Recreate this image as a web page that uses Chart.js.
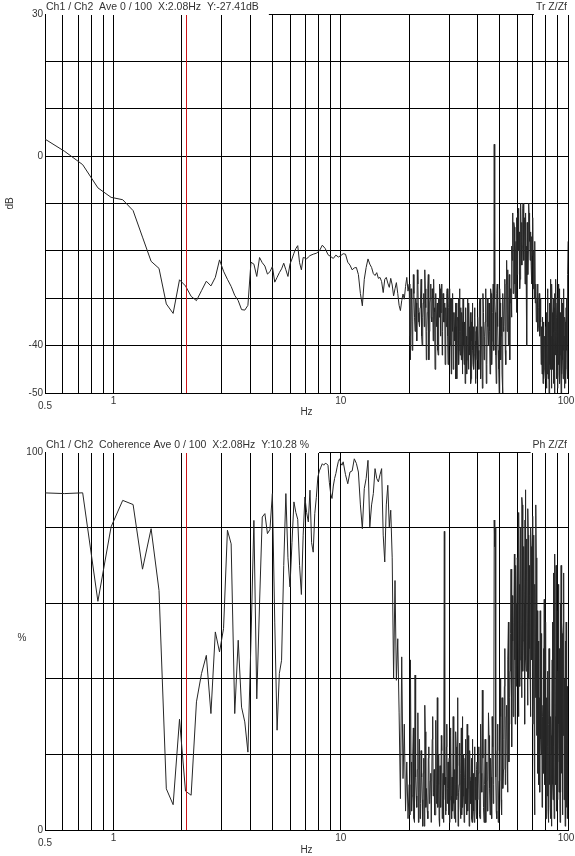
<!DOCTYPE html>
<html>
<head>
<meta charset="utf-8">
<title>Tr Z/Zf - Coherence</title>
<script src="https://cdn.jsdelivr.net/npm/chart.js@4.4.0/dist/chart.umd.min.js"></script>
<style>
    html, body { margin: 0; padding: 0; background: #fff; }
    #wrap { position: relative; width: 575px; height: 856px; overflow: hidden; }
    canvas { position: absolute; left: 0; }
    #trChart { top: 0; }
    #cohChart { top: 430px; }
</style>
</head>
<body>
<div id="wrap">
    <canvas id="trChart" width="575" height="430"></canvas>
    <canvas id="cohChart" width="575" height="426"></canvas>
</div>
<script>
/* ============================================
   Transfer function + coherence, Ch1 / Ch2
   ============================================ */

// FFT line spacing (Hz) and cursor
const binWidth = 0.12207;
const cursorHz = 2.08;

// axis grid / labels
const xGridHz = [0.5, 0.6, 0.7, 0.8, 0.9, 1, 2, 3, 4, 5, 6, 7, 8, 9, 10, 20, 30, 40, 50, 60, 70, 80, 90, 100];
const xLabelHz = [1, 10];
const trGrid = [30, 20, 10, 0, -10, -20, -30, -40, -50];
const trLabels = [30, 0, -40, -50];
const cohGrid = [100, 80, 60, 40, 20, 0];
const cohLabels = [100, 0];

// Tr Z/Zf (dB) - lines 4..59, every line
const trLow = [
    3.9, 1.0, -1.8, -6.7, -8.7, -9.2, -11.5, -17.1, -22.2, -23.7,
    -31.2, -33.2, -26.1, -27.4, -29.6, -30.5, -28.4, -26.4, -27.4, -25.6,
    -21.9, -24.3, -26.0, -27.5, -29.4, -30.5, -32.4, -32.5, -31.5, -22.4,
    -22.8, -25.4, -21.4, -22.5, -23.2, -24.9, -24.4, -23.3, -26.6, -25.6,
    -24.6, -23.8, -22.6, -24.0, -25.4, -22.8, -21.7, -20.5, -19.5, -18.9,
    -22.5, -24.0, -21.4, -21.5, -21.7, -21.3
];
// Tr Z/Zf (dB) - lines 60..326, every 2nd line
const trMid = [
    -21.0, -20.7, -20.5, -20.0, -18.8, -19.5, -20.8, -21.2, -21.6, -20.9,
    -21.3, -21.0, -20.6, -20.7, -22.4, -23.0, -24.0, -23.6, -23.5, -25.0,
    -29.0, -31.6, -26.0, -23.5, -21.7, -22.8, -23.5, -24.8, -25.2, -24.6,
    -25.8, -25.6, -26.5, -28.8, -26.0, -25.6, -26.8, -27.7, -25.8, -27.2,
    -29.5, -28.0, -26.7, -29.0, -31.5, -32.6, -30.5, -29.1, -30.2, -27.5,
    -25.6, -28.5,
    -27, -43, -30, -35, -29, -37, -31, -24, -33, -36,
    -30, -38, -34, -29, -24, -32, -37, -28, -43, -31,
    -27, -35, -30, -26, -33, -29, -36, -31, -42, -34,
    -28, -33, -27, -37, -30, -35, -44, -32, -29, -38,
    -33, -28, -40, -35, -30, -37, -45, -33, -39, -31,
    -36, -47, -34, -30, -41, -37, -32, -43, -35, -38,
    -30, -44, -36, -33, -40, -46, -34, -38, -31, -42,
    -37, -48, -35, -33, -41, -38, -45, -32, -39, -47,
    -36, -43
];
// Tr Z/Zf (dB) - lines 165..325, the odd lines in between
const trMidOdd = [
    -38, -28, -41, -25, -34, -30, -39, -27, -35, -32,
    -26, -40, -31, -36, -28, -43, -33, -25, -37, -30,
    -34, -28, -39, -32, -45, -29, -36, -41, -30, -27,
    -38, -33, -42, -29, -35, -31, -40, -36, -28, -44,
    -32, -38, -30, -46, -34, -29, -41, -36, -33, -47,
    -31, -39, -35, -44, -28, -42, -37, -33, -46, -30,
    -40, -35, -48, -32, -38, -43, -30, -45, -36, -41,
    -33, -47, -39, -31, -44, -36, -42, -34, -48, -37,
    -40
];
// Tr Z/Zf (dB) - lines 328..820, every 4th line
const trHigh = [
    -34, -45, -30, -40, -49, -33, -38, -28, -44, -36,
    -31, -46, -29, -39, -27, 2.5,
    -33, -48, -27, -41, -50, -31, -38, -46, -29,
    -36, -26, -44, -22, -33, -40, -25, -31,
    -28, -19, -12, -24, -15, -30, -18,
    -13, -21, -11, -16, -26, -10, -14, -19, -10, -22, -13, -17, -24, -40, -15, -20, -12,
    -14, -19, -23, -17, -21, -28, -20, -25,
    -31, -27, -35, -30, -37, -33, -29, -38, -34,
    -44, -36, -40, -48, -35, -45, -38, -47, -42,
    -33, -46, -29, -40, -50, -36, -31, -45, -39, -27,
    -43, -35, -48, -32, -41, -37, -26, -44, -34, -49,
    -30, -39, -46, -28, -42, -36, -50, -33, -40, -31,
    -47, -29, -38, -44, -35, -48, -32, -41, -45, -37,
    -18
];
// Tr Z/Zf (dB) - lines 330..818, in between the 4th lines
const trHighOdd = [
    -41, -31, -47, -36, -29, -43, -35, -48, -30, -40,
    -37, -28, -44, -33, -41, -30,
    -42, -29, -36, -45, -28, -43, -34, -50, -37,
    -30, -41, -27, -37, -24, -35, -43, -28,
    -34, -22, -29, -14, -27, -20, -33,
    -25, -12, -20, -28, -13, -18, -23, -11, -17, -15, -27, -12, -19, -14, -25, -10, -18,
    -22, -16, -27, -19, -13, -24, -30, -18,
    -28, -35, -31, -27, -36, -32, -38, -30, -35,
    -39, -46, -34, -42, -47, -38, -43, -36, -49,
    -40, -28, -47, -35, -31, -44, -26, -38, -49, -33,
    -45, -30, -37, -50, -29, -42, -35, -47, -31, -39,
    -44, -27, -36, -48, -33, -40, -30, -46, -37, -43,
    -28, -41, -49, -34, -39, -45, -30, -36, -47, -25
];

// Coherence (%) - lines 4..83, every line
const cohLow = [
    89.2, 89.0, 89.2, 60.5, 80.2, 87.2, 86.1, 69.0, 79.7, 63.4,
    10.9, 6.7, 29.3, 10.3, 9.2, 33.9, 41.4, 46.2, 30.8, 52.4,
    47.1, 53.3, 79.3, 75.7, 30.8, 50.2, 32.5, 28.6, 20.6, 50,
    81.9, 34.7, 60, 82.8, 83.7, 78.4, 79.5, 89.0, 55, 26.4,
    41.4, 44.9, 70, 89.0, 72, 64.3, 76, 86.8, 84, 82.2,
    70, 62.3, 78, 88.1, 84, 81.5, 89.9, 76, 73.5, 83.7,
    88, 93.4, 95, 96, 96.9, 96.5, 97, 96.9, 96.5, 92,
    89, 87.7, 91, 93, 94.3, 96, 97.5, 98.2, 97, 96.5
];
// Coherence (%) - lines 84..326, every 2nd line
const cohMid = [
    97.4, 94, 91.6, 94.7, 95, 98.2, 97, 94.7, 86, 79.7,
    90.3, 93, 97.8, 80.2, 86, 89.0, 95.6, 93, 92.1, 94,
    95.6, 78, 70.9, 86, 91.2, 80.2, 84.6, 72, 40.0, 66.0,
    39.6, 50.6, 31.2, 8.3, 45.8, 13.6, 28, 5, 18, 3,
    12, 45, 5, 20, 3, 41, 9, 16, 2, 24,
    7, 14, 1, 19, 33, 6, 11, 3, 22, 8,
    15, 2, 30, 10, 4, 18, 7, 35, 12, 3,
    17, 6, 21, 9, 2, 79, 14, 5, 28, 11,
    4, 19, 8, 25, 3, 13, 30, 7, 16, 2,
    22, 9, 35, 5, 12, 18, 3, 27, 10, 6,
    20, 2, 14, 24, 8, 4, 17, 11, 25, 3,
    13, 7, 19, 2, 9, 15, 5, 22, 8, 14,
    3, 18
];
// Coherence (%) - lines 165..325, the odd lines in between
const cohMidOdd = [
    4, 18, 9, 27, 2, 14, 6, 31, 10, 3,
    21, 8, 15, 1, 26, 11, 5, 19, 7, 13,
    2, 24, 9, 16, 4, 29, 12, 6, 20, 1,
    10, 25, 3, 15, 8, 12, 4, 22, 7, 18,
    11, 2, 27, 9, 14, 5, 21, 3, 12, 26,
    8, 17, 1, 10, 23, 6, 15, 4, 30, 9,
    13, 2, 19, 7, 11, 28, 5, 16, 1, 21,
    9, 14, 3, 24, 7, 12, 2, 18, 10, 5,
    16
];
// Coherence (%) - lines 328..820, every 4th line
const cohHigh = [
    8, 22, 3, 15, 37, 6, 12, 2, 18, 9,
    25, 4, 14, 30, 7, 82, 80,
    5, 21, 2, 13, 40, 8, 35, 11,
    24, 48, 15, 33, 10, 55, 28, 42,
    69, 22, 50, 35, 73, 28, 60,
    40, 71, 30, 65, 45, 80, 35, 86, 50, 75, 28, 90, 42, 68, 33, 78, 48,
    62, 30, 75, 45, 83, 35, 60, 4, 50, 86, 25, 58, 15, 45, 30, 10, 38, 20, 52, 8, 33, 18, 61, 12, 28, 3,
    35, 9, 22, 2, 48, 14, 6, 30, 1,
    20, 55, 8, 40, 3, 73, 25, 12, 60, 5, 38, 18, 65, 10,
    45, 2, 30, 70, 15, 52, 4, 25, 62, 8, 40, 1, 33, 55, 6, 20, 3, 12
];
// Coherence (%) - lines 330..818, in between the 4th lines
const cohHighOdd = [
    15, 4, 28, 10, 19, 2, 24, 13, 5, 31,
    11, 19, 3, 22, 12, 75,
    14, 3, 28, 9, 18, 30, 4, 22, 16,
    38, 12, 30, 20, 45, 18, 35, 52,
    40, 62, 30, 55, 45, 70, 38,
    72, 50, 84, 38, 75, 55, 88, 42, 70, 60, 82, 45, 77, 55, 85, 40, 70,
    42, 80, 50, 68, 28, 78, 20, 65, 35, 72, 40, 22, 50, 12, 35, 58, 24, 42, 6, 30, 48, 15, 40, 22, 55, 10,
    20, 42, 5, 28, 12, 38, 3, 25, 14,
    45, 12, 68, 22, 5, 50, 30, 70, 15, 42, 8, 58, 28, 48,
    18, 60, 10, 38, 55, 5, 42, 28, 68, 12, 35, 50, 3, 45, 25, 8, 38
];

const FONT = '"Liberation Sans", Arial, sans-serif';
const TEXT_COLOR = '#333';

function toPoints(firstBin, step, values) {
    return values.map((v, i) => ({ x: (firstBin + i * step) * binWidth, y: v }));
}

function mergeSegments(...segments) {
    return segments.flat().sort((a, b) => a.x - b.x);
}

// header texts, cursor and the extra labels
const panelText = {
    id: 'panelText',
    afterDatasetsDraw(chart) {
        const { ctx, chartArea: a, scales: { x } } = chart;
        const px = Math.round(x.getPixelForValue(cursorHz)) + 0.5;
        ctx.save();
        ctx.strokeStyle = '#cc1418';
        ctx.lineWidth = 1;
        ctx.beginPath();
        ctx.moveTo(px, a.top);
        ctx.lineTo(px, a.bottom);
        ctx.stroke();
        ctx.restore();
    },
    afterDraw(chart, args, opts) {
        const { ctx, chartArea: a, scales: { x } } = chart;
        ctx.save();
        ctx.font = '10.5px ' + FONT;
        ctx.textBaseline = 'middle';
        const lw = ctx.measureText(opts.left).width;
        const rw = ctx.measureText(opts.right).width;
        ctx.fillStyle = '#fff';
        ctx.fillRect(a.left + 1, 0, lw + 10, Math.floor(a.top) + 1);
        ctx.fillRect(a.right - rw - 3, 0, rw + 10, Math.floor(a.top) + 1);
        ctx.fillStyle = TEXT_COLOR;
        ctx.textAlign = 'left';
        ctx.fillText(opts.left, a.left + 1, a.top - 6.5);
        ctx.textAlign = 'right';
        ctx.fillText(opts.right, a.right - 1, a.top - 6.5);

        // end labels of the frequency axis
        ctx.font = '10px ' + FONT;
        ctx.textAlign = 'center';
        ctx.fillText('0.5', x.getPixelForValue(0.5), a.bottom + 13.5);
        ctx.fillText('100', x.getPixelForValue(100) - 2, a.bottom + 8);
        if (opts.unit) ctx.fillText(opts.unit, 22, (a.top + a.bottom) / 2 - 3);
        ctx.restore();
    }
};

function buildChart(canvasId, cfg) {
    const ctx = document.getElementById(canvasId).getContext('2d');
    return new Chart(ctx, {
        type: 'line',
        data: {
            datasets: [{
                data: cfg.points,
                borderColor: '#262626',
                borderWidth: 1,
                pointRadius: 0,
                tension: 0,
                fill: false
            }]
        },
        options: {
            responsive: false,
            animation: false,
            devicePixelRatio: 1,
            events: [],
            layout: { padding: { top: cfg.padTop, right: 7, bottom: 0, left: 0 } },
            plugins: {
                legend: { display: false },
                tooltip: { enabled: false },
                panelText: { left: cfg.titleLeft, right: cfg.titleRight, unit: cfg.unit }
            },
            scales: {
                x: {
                    type: 'logarithmic',
                    min: 0.5,
                    max: 100,
                    afterBuildTicks: s => { s.ticks = xGridHz.map(v => ({ value: v })); },
                    afterFit: s => { s.height = cfg.xHeight; s.paddingLeft = 0; s.paddingRight = 0; },
                    grid: { color: '#000', lineWidth: 1, drawTicks: false },
                    border: { color: '#000', width: 1 },
                    ticks: {
                        autoSkip: false,
                        maxRotation: 0,
                        padding: 2,
                        color: TEXT_COLOR,
                        font: { family: FONT, size: 10 },
                        callback: v => xLabelHz.includes(v) ? String(v) : ''
                    },
                    title: {
                        display: true,
                        text: 'Hz',
                        color: TEXT_COLOR,
                        font: { family: FONT, size: 10 },
                        padding: { top: 0, bottom: cfg.hzPad }
                    }
                },
                y: {
                    min: cfg.yMin,
                    max: cfg.yMax,
                    afterBuildTicks: s => { s.ticks = cfg.yGrid.map(v => ({ value: v })); },
                    afterFit: s => { s.width = 45; s.paddingTop = 0; s.paddingBottom = 0; },
                    grid: { color: '#000', lineWidth: 1, drawTicks: false },
                    border: { color: '#000', width: 1 },
                    ticks: {
                        padding: 2,
                        color: TEXT_COLOR,
                        font: { family: FONT, size: 10 },
                        callback: v => cfg.yLabels.includes(v) ? String(v) : ''
                    },
                    title: {
                        display: !!cfg.yTitle,
                        text: cfg.yTitle || '',
                        color: TEXT_COLOR,
                        font: { family: FONT, size: 10 },
                        padding: { top: 4, bottom: 0 }
                    }
                }
            }
        },
        plugins: [panelText]
    });
}

buildChart('trChart', {
    points: mergeSegments(
        toPoints(4, 1, trLow), toPoints(60, 2, trMid), toPoints(165, 2, trMidOdd),
        toPoints(328, 4, trHigh), toPoints(330, 4, trHighOdd)
    ),
    yMin: -50, yMax: 30, yGrid: trGrid, yLabels: trLabels, yTitle: 'dB',
    padTop: 14, xHeight: 37, hzPad: 11.5,
    titleLeft: 'Ch1 / Ch2  Ave 0 / 100  X:2.08Hz  Y:-27.41dB',
    titleRight: 'Tr Z/Zf',
    unit: null
});

buildChart('cohChart', {
    points: mergeSegments(
        toPoints(4, 1, cohLow), toPoints(84, 2, cohMid), toPoints(165, 2, cohMidOdd),
        toPoints(328, 4, cohHigh), toPoints(330, 4, cohHighOdd)
    ),
    yMin: 0, yMax: 100, yGrid: cohGrid, yLabels: cohLabels, yTitle: null,
    padTop: 22, xHeight: 26, hzPad: 0,
    titleLeft: 'Ch1 / Ch2  Coherence Ave 0 / 100  X:2.08Hz  Y:10.28 %',
    titleRight: 'Ph Z/Zf',
    unit: '%'
});
</script>
</body>
</html>
